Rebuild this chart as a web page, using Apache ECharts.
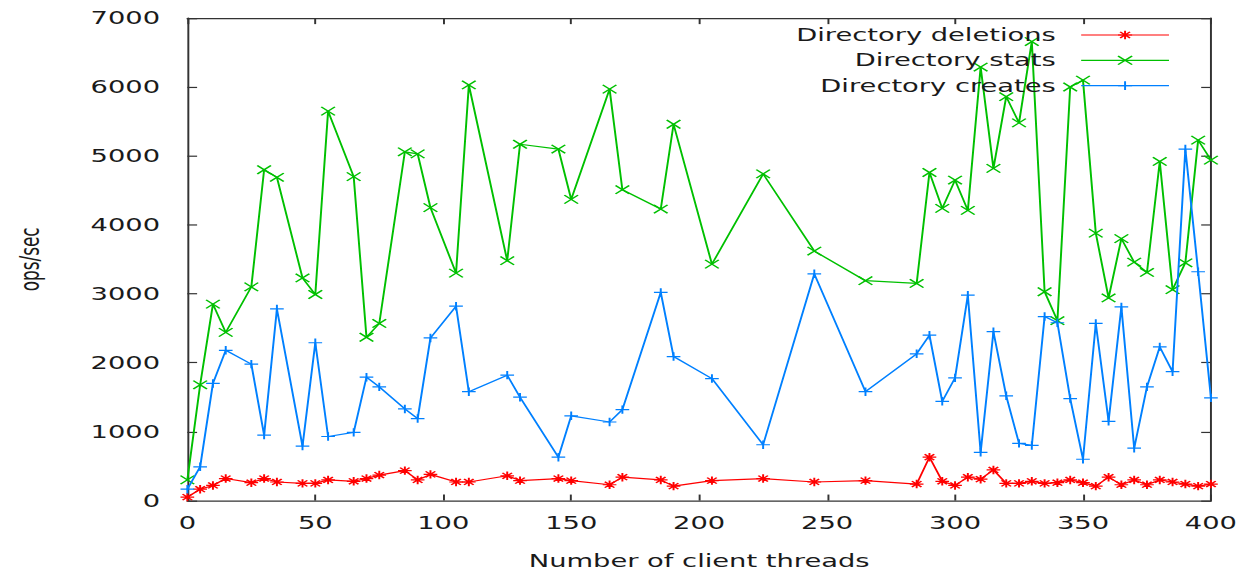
<!DOCTYPE html>
<html>
<head>
<meta charset="utf-8">
<script src="https://cdn.jsdelivr.net/npm/echarts@6/dist/echarts.min.js"></script>
<style>
  html, body { margin: 0; padding: 0; background: #ffffff; overflow: hidden; width: 1249px; height: 579px; }
  #chart { width: 640px; height: 480px; transform-origin: 0 0; transform: scale(1.95156, 1.20625); }
</style>
</head>
<body>
<div id="chart"></div>
<script>
// Number of client threads (x values shared by all three series)
var threads = [0, 5, 10, 15, 25, 30, 35, 45, 50, 55,
               65, 70, 75, 85, 90, 95, 105, 110, 125, 130,
               145, 150, 165, 170, 185, 190, 205, 225, 245, 265,
               285, 290, 295, 300, 305, 310, 315, 320, 325, 330,
               335, 340, 345, 350, 355, 360, 365, 370, 375, 380,
               385, 390, 395, 400];

var deletions = [50, 165, 220, 320, 260, 320, 270, 250, 250, 300,
                 280, 320, 370, 435, 300, 380, 270, 270, 360, 290,
                 320, 290, 230, 340, 300, 210, 290, 320, 270, 290,
                 240, 630, 280, 220, 340, 310, 445, 250, 250, 280,
                 250, 260, 300, 260, 210, 340, 230, 300, 230, 300,
                 270, 240, 210, 240];

var stats = [300, 1680, 2850, 2440, 3100, 4800, 4690, 3230, 2990, 5650,
             4700, 2370, 2570, 5060, 5030, 4250, 3300, 6030, 3480, 5170,
             5100, 4370, 5970, 4510, 4230, 5460, 3430, 4740, 3620, 3190,
             3150, 4760, 4240, 4650, 4210, 6290, 4820, 5860, 5480, 6660,
             3030, 2610, 6000, 6100, 3880, 2940, 3800, 3460, 3310, 4920,
             3060, 3450, 5230, 4940];

var creates = [165, 490, 1700, 2180, 1980, 950, 2780, 790, 2290, 930,
               990, 1790, 1650, 1330, 1190, 2360, 2820, 1580, 1820, 1500,
               630, 1230, 1140, 1320, 3020, 2090, 1770, 810, 3290, 1580,
               2130, 2400, 1440, 1780, 2980, 700, 2450, 1520, 830, 800,
               2670, 2580, 1480, 600, 2570, 1150, 2810, 760, 1650, 2230,
               1870, 5100, 3320, 1490];

var seriesNames = ['Directory deletions', 'Directory stats', 'Directory creates'];
var xTitle = 'Number of client threads';
var yTitle = 'ops/sec';

var FONT = 'DejaVu Sans';
var TEXT = '#1a1a1a';
var AXIS = '#333333';
var colors = ['#ff0000', '#00c000', '#0080ff'];
var symbols = [
  'path://M0,5L10,5M5,0L5,10M1.5,1.5L8.5,8.5M1.5,8.5L8.5,1.5',
  'path://M0,0L10,10M0,10L10,0',
  'path://M0,5L10,5M5,0L5,10'
];
var values = [deletions, stats, creates];

function pairs(arr) {
  return threads.map(function (x, i) { return [x, arr[i]]; });
}
function plain(v) { return String(v); }

var series = values.map(function (arr, i) {
  return {
    name: seriesNames[i],
    type: 'line',
    data: pairs(arr),
    symbol: symbols[i],
    symbolSize: 7,
    showAllSymbol: true,
    lineStyle: { color: colors[i], width: 1 },
    itemStyle: { color: colors[i], borderColor: colors[i], borderWidth: 1 },
    emphasis: { disabled: true },
    silent: true,
    z: 2 + i
  };
});

var legendTops = [21, 42, 63];
var legends = seriesNames.map(function (n, i) {
  return {
    data: [n],
    right: 40.5,
    top: legendTops[i],
    padding: 0,
    orient: 'horizontal',
    align: 'right',
    itemWidth: 45,
    itemHeight: 9,
    selectedMode: false,
    textStyle: { fontFamily: FONT, fontSize: 14, color: TEXT, lineHeight: 16, padding: [0, 8, 0, 0] },
    itemStyle: { color: colors[i], borderColor: colors[i], borderWidth: 1 },
    lineStyle: { color: colors[i], width: 1 }
  };
});

function xAxis(pos, labels) {
  return {
    type: 'value', position: pos, min: 0, max: 400, interval: 50,
    name: labels ? xTitle : '',
    nameLocation: 'middle', nameGap: 43,
    nameTextStyle: { fontFamily: FONT, fontSize: 14, color: TEXT },
    axisLine: { show: true, onZero: false, lineStyle: { color: AXIS, width: 1 } },
    axisTick: { show: true, inside: true, length: 5, lineStyle: { color: AXIS } },
    axisLabel: { show: labels, margin: 12, fontFamily: FONT, fontSize: 14, color: TEXT, formatter: plain },
    splitLine: { show: false }
  };
}
function yAxis(pos, labels) {
  return {
    type: 'value', position: pos, min: 0, max: 7000, interval: 1000,
    name: labels ? yTitle : '',
    nameLocation: 'middle', nameGap: 74, nameRotate: 90,
    nameTextStyle: { fontFamily: FONT, fontSize: 14, color: TEXT },
    axisLine: { show: true, onZero: false, lineStyle: { color: AXIS, width: 1 } },
    axisTick: { show: true, inside: true, length: 5, lineStyle: { color: AXIS } },
    axisLabel: { show: labels, margin: 14, fontFamily: FONT, fontSize: 14, color: TEXT, formatter: plain },
    splitLine: { show: false }
  };
}

var chart = echarts.init(document.getElementById('chart'), null, { renderer: 'svg', width: 640, height: 480 });
chart.setOption({
  animation: false,
  backgroundColor: '#ffffff',
  grid: { left: 95, right: 19.5, top: 15, bottom: 65, containLabel: false },
  legend: legends,
  xAxis: [xAxis('bottom', true), xAxis('top', false)],
  yAxis: [yAxis('left', true), yAxis('right', false)],
  series: series
});
</script>
</body>
</html>
